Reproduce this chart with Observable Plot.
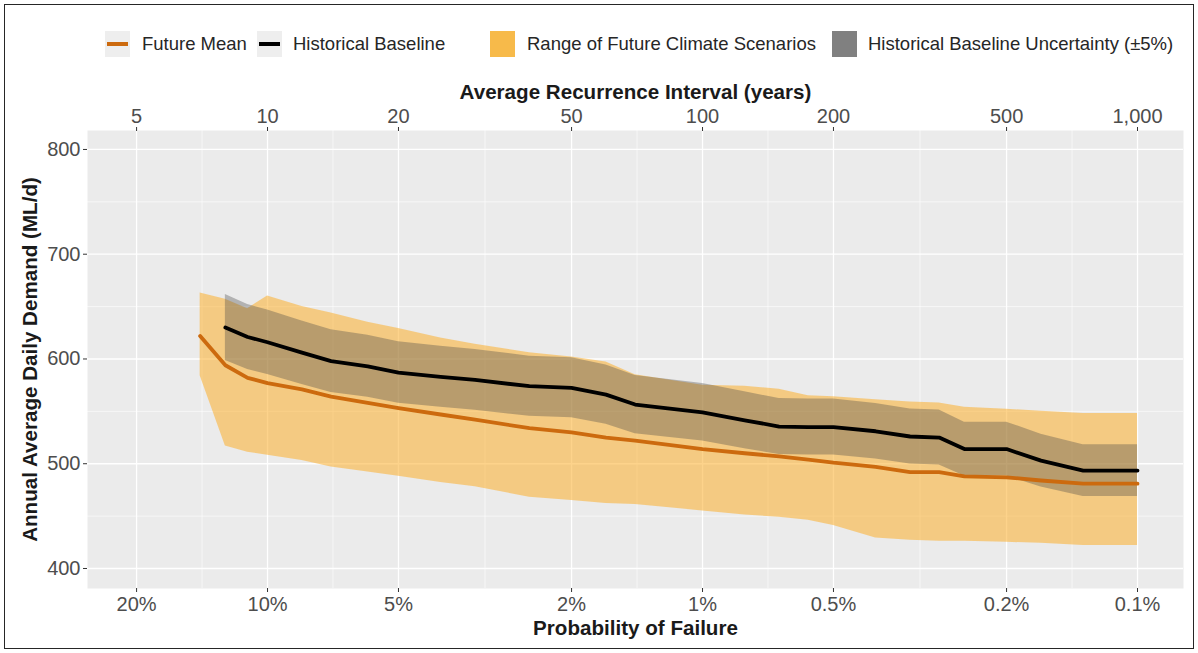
<!DOCTYPE html>
<html>
<head>
<meta charset="utf-8">
<script src="https://cdn.jsdelivr.net/npm/d3@7"></script>
<script src="https://cdn.jsdelivr.net/npm/@observablehq/plot@0.6"></script>
<style>
html, body { margin: 0; padding: 0; background: #fff; }
#wrap { position: relative; width: 1198px; height: 653px; font-family: "Liberation Sans", Arial, sans-serif; overflow: hidden; background: #fff; }
#border { position: absolute; left: 4px; top: 4px; width: 1190px; height: 645px; box-sizing: border-box; border: 1.5px solid #262626; pointer-events: none; }
#legend { position: relative; height: 70px; }
.key { position: absolute; top: 31px; width: 25px; height: 26px; background: #EEEEEE; }
.key .ln { position: absolute; left: 2px; right: 2px; top: 11px; height: 4px; }
.lab { position: absolute; top: 44px; transform: translateY(-50%); font-size: 18.5px; color: #262626; white-space: nowrap; }
#chart svg { display: block; }
</style>
</head>
<body>
<div id="wrap">
  <div id="legend"></div>
  <div id="chart"></div>
  <div id="border"></div>
</div>
<script>
// ---- Data ----
// Average recurrence interval (years) for the future-scenario series
const futureYears = [7, 8, 9, 10, 12, 14, 17, 20, 25, 30, 40, 50, 60, 70, 100, 125, 150, 175, 200, 250, 300, 350, 400, 500, 600, 750, 1000];
const futureMean  = [622, 594, 582, 577, 571, 564, 558, 553, 547, 542, 534, 530, 525, 522, 514, 510, 507, 504, 501, 497, 492, 492, 488, 487, 484, 481, 481];
const futureMax   = [663, 657, 648, 660, 650, 644, 635, 629, 620, 614, 606, 602, 597, 585, 575, 574, 571, 565, 564, 561, 559, 558, 554, 552, 550, 548, 548];
const futureMin   = [584, 517, 511, 508, 503, 497, 492, 488, 482, 478, 468, 465, 462, 461, 455, 451, 449, 446, 441, 429, 427, 426, 426, 425, 424, 422, 422];

// Historical baseline series
const histYears = [8, 9, 10, 12, 14, 17, 20, 25, 30, 40, 50, 60, 70, 100, 125, 150, 175, 200, 250, 300, 350, 400, 500, 600, 750, 1000];
const histMean  = [630, 621, 616, 606, 598, 593, 587, 583, 580, 574, 572.5, 566, 556.5, 549, 541.5, 535.5, 535, 535, 531, 526, 525, 514, 514, 503, 493.5, 493.5];
const histHigh  = [661.5, 652, 646.8, 636.3, 627.9, 622.7, 616.4, 612.2, 609, 602.7, 601.1, 594.3, 584.3, 576.5, 568.6, 562.3, 561.8, 561.8, 557.6, 552.3, 551.3, 539.7, 539.7, 528.2, 518.2, 518.2];
const histLow   = [598.5, 590, 585.2, 575.7, 568.1, 563.4, 557.7, 553.9, 551, 545.3, 543.9, 537.7, 528.7, 521.6, 514.4, 508.7, 508.3, 508.3, 504.5, 499.7, 498.8, 488.3, 488.3, 477.9, 468.8, 468.8];

// Ticks and labels
const xTicks = [5, 10, 20, 50, 100, 200, 500, 1000];
const xMinorTicks = [7.071, 14.14, 31.62, 70.71, 141.4, 316.2, 707.1];
const probLabels = ["20%", "10%", "5%", "2%", "1%", "0.5%", "0.2%", "0.1%"];
const yTicks = [400, 500, 600, 700, 800];
const yMinorTicks = [450, 550, 650, 750];

const legendLabels = ["Future Mean", "Historical Baseline", "Range of Future Climate Scenarios", "Historical Baseline Uncertainty (\u00b15%)"];

// ---- Styles ----
const C = {
  panel: "#EBEBEB",
  futureLine: "#CC6A0E",
  histLine: "#000000",
  rangeFill: "#FBB233",
  uncFill: "#494949",
  tickText: "#4D4D4D",
  title: "#1A1A1A"
};

// ---- Build tables ----
const future = futureYears.map((t, i) => ({t, mean: futureMean[i], lo: futureMin[i], hi: futureMax[i]}));
const hist = histYears.map((t, i) => ({t, mean: histMean[i], lo: histLow[i], hi: histHigh[i]}));

// ---- Legend ----
const legend = document.getElementById("legend");
const legendItems = [
  {type: "line", color: C.futureLine, keyX: 105, textX: 142},
  {type: "line", color: C.histLine, keyX: 257, textX: 293},
  {type: "fill", color: "#F7BA4A", keyX: 490, textX: 527},
  {type: "fill", color: "#808080", keyX: 832, textX: 868}
];
legendItems.forEach((it, i) => {
  const k = document.createElement("div");
  k.className = "key";
  k.style.left = it.keyX + "px";
  if (it.type === "line") {
    const ln = document.createElement("div");
    ln.className = "ln";
    ln.style.background = it.color;
    k.appendChild(ln);
  } else {
    k.style.background = it.color;
  }
  legend.appendChild(k);
  const l = document.createElement("div");
  l.className = "lab";
  l.style.left = it.textX + "px";
  l.textContent = legendLabels[i];
  legend.appendChild(l);
});

// ---- Plot ----
const chart = Plot.plot({
  width: 1198,
  height: 583,
  marginTop: 60,
  marginBottom: 65,
  marginLeft: 87,
  marginRight: 15,
  style: {fontFamily: "'Liberation Sans', Arial, sans-serif", background: "transparent", overflow: "visible"},
  x: {type: "log", domain: [3.856, 1275.6]},
  y: {domain: [380.9, 818.1]},
  marks: [
    Plot.frame({fill: C.panel, stroke: null}),
    Plot.ruleX(xMinorTicks, {stroke: "#fff", strokeWidth: 0.6}),
    Plot.ruleY(yMinorTicks, {stroke: "#fff", strokeWidth: 0.6}),
    Plot.ruleX(xTicks, {stroke: "#fff", strokeWidth: 1.3}),
    Plot.ruleY(yTicks, {stroke: "#fff", strokeWidth: 1.3}),
    Plot.areaY(future, {x: "t", y1: "lo", y2: "hi", fill: C.rangeFill, fillOpacity: 0.57}),
    Plot.areaY(hist, {x: "t", y1: "lo", y2: "hi", fill: C.uncFill, fillOpacity: 0.35}),
    Plot.line(future, {x: "t", y: "mean", stroke: C.futureLine, strokeWidth: 3.8, strokeLinejoin: "round"}),
    Plot.line(hist, {x: "t", y: "mean", stroke: C.histLine, strokeWidth: 3.8, strokeLinejoin: "round"}),
    Plot.axisX(xTicks, {anchor: "top", tickFormat: d3.format(","), tickSize: 4, tickPadding: 4, fontSize: 20, color: C.tickText, stroke: "#333", label: null}),
    Plot.axisX(xTicks, {anchor: "bottom", tickFormat: d => probLabels[xTicks.indexOf(d)], tickSize: 4, tickPadding: 4, fontSize: 20, color: C.tickText, stroke: "#333", label: null}),
    Plot.axisY(yTicks, {anchor: "left", tickSize: 4, tickPadding: 3, fontSize: 20, color: C.tickText, stroke: "#333", label: null}),
    Plot.text(["Average Recurrence Interval (years)"], {text: d => d, frameAnchor: "top", lineAnchor: "middle", textAnchor: "middle", dy: -38, fontSize: 20.6, fontWeight: "bold", fill: C.title}),
    Plot.text(["Probability of Failure"], {text: d => d, frameAnchor: "bottom", lineAnchor: "middle", textAnchor: "middle", dy: 40, fontSize: 20.6, fontWeight: "bold", fill: C.title}),
    Plot.text(["Annual Average Daily Demand (ML/d)"], {text: d => d, frameAnchor: "left", lineAnchor: "middle", textAnchor: "middle", dx: -57, rotate: -90, fontSize: 20.6, fontWeight: "bold", fill: C.title})
  ]
});
document.getElementById("chart").appendChild(chart);
</script>
</body>
</html>
